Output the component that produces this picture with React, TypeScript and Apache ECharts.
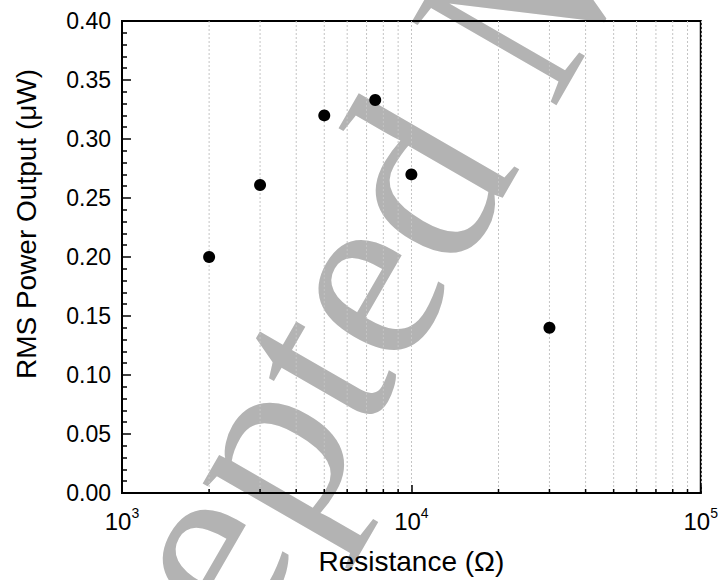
import React, { useEffect, useRef } from 'react';
import * as echarts from 'echarts';

// Data
const resistance = [2000, 3000, 5000, 7500, 10000, 30000];
const rmsPower = [0.2, 0.261, 0.32, 0.333, 0.27, 0.14];
const minorGridValues = [
  2000, 3000, 4000, 5000, 6000, 7000, 8000, 9000,
  20000, 30000, 40000, 50000, 60000, 70000, 80000, 90000,
];
const xAxisTitle = 'Resistance (Ω)';
const yAxisTitle = 'RMS Power Output (μW)';
const watermarkText = 'Accepted Manuscript';

const FONT = '"Liberation Sans", Arial, Helvetica, sans-serif';

export default function App() {
  const ref = useRef<HTMLDivElement>(null);

  useEffect(() => {
    if (!ref.current) return;
    const chart = echarts.init(ref.current, undefined, { renderer: 'svg' });
    const option: any = {
      animation: false,
      backgroundColor: '#ffffff',
      graphic: [
        {
          type: 'text',
          x: 512,
          y: 10,
          rotation: (60 * Math.PI) / 180,
          z: -10,
          silent: true,
          style: {
            text: watermarkText,
            font: '255px "Liberation Serif", "Times New Roman", serif',
            fill: '#b3b3b3',
            align: 'center',
            verticalAlign: 'middle',
          },
        },
      ],
      grid: {
        left: 122,
        right: 18,
        top: 21,
        bottom: 87,
        show: true,
        borderColor: '#000',
        borderWidth: 2,
        backgroundColor: 'transparent',
      },
      xAxis: {
        type: 'log',
        logBase: 10,
        min: 1000,
        max: 100000,
        name: xAxisTitle,
        nameLocation: 'middle',
        nameGap: 54,
        nameTextStyle: { fontFamily: FONT, fontSize: 28, color: '#000' },
        axisLine: { lineStyle: { color: '#000', width: 2 } },
        axisTick: { inside: true, length: 8, lineStyle: { color: '#000', width: 1.5 } },
        splitLine: { show: true, lineStyle: { color: '#c4c4c4', width: 1, type: [2, 2] } },
        axisLabel: {
          margin: 13,
          color: '#000',
          fontFamily: FONT,
          formatter: (v: number) => `{b|10}{s|${Math.round(Math.log10(v))}}`,
          rich: {
            b: { fontSize: 24, lineHeight: 30, fontFamily: FONT, color: '#000' },
            s: { fontSize: 14, lineHeight: 14, verticalAlign: 'top', fontFamily: FONT, color: '#000' },
          },
        },
      },
      yAxis: {
        type: 'value',
        min: 0,
        max: 0.4,
        interval: 0.05,
        name: yAxisTitle,
        nameLocation: 'middle',
        nameGap: 82,
        nameTextStyle: { fontFamily: FONT, fontSize: 28, color: '#000', padding: [0, 0, 0, 66] },
        axisLine: { show: true, lineStyle: { color: '#000', width: 2 } },
        axisTick: { show: true, inside: true, length: 9, lineStyle: { color: '#000', width: 1.5 } },
        minorTick: { show: true, splitNumber: 5, length: 5, lineStyle: { color: '#000', width: 1.5 } },
        splitLine: { show: false },
        axisLabel: {
          margin: 11,
          color: '#000',
          fontFamily: FONT,
          fontSize: 23,
          formatter: (v: number) => v.toFixed(2),
        },
      },
      series: [
        {
          type: 'custom',
          silent: true,
          z: 1,
          data: minorGridValues.map((v) => [v, 0]),
          encode: { x: 0, y: 1 },
          renderItem: (params: any, api: any) => {
            const cs = params.coordSys;
            const x = api.coord([api.value(0), 0])[0];
            const bottom = cs.y + cs.height;
            return {
              type: 'group',
              children: [
                {
                  type: 'line',
                  shape: { x1: x, y1: cs.y, x2: x, y2: bottom },
                  style: { stroke: '#c4c4c4', lineWidth: 1, lineDash: [2, 2] },
                },
                {
                  type: 'line',
                  shape: { x1: x, y1: bottom, x2: x, y2: bottom - 4 },
                  style: { stroke: '#000', lineWidth: 1.5 },
                },
              ],
            };
          },
        },
        {
          type: 'scatter',
          z: 3,
          symbol: 'circle',
          symbolSize: 12,
          itemStyle: { color: '#000', opacity: 1 },
          data: resistance.map((r, i) => [r, rmsPower[i]]),
        },
      ],
    };
    chart.setOption(option);
    return () => chart.dispose();
  }, []);

  return (
    <div
      ref={ref}
      style={{ position: 'fixed', left: 0, top: 0, width: 721, height: 580, background: '#fff' }}
    />
  );
}
